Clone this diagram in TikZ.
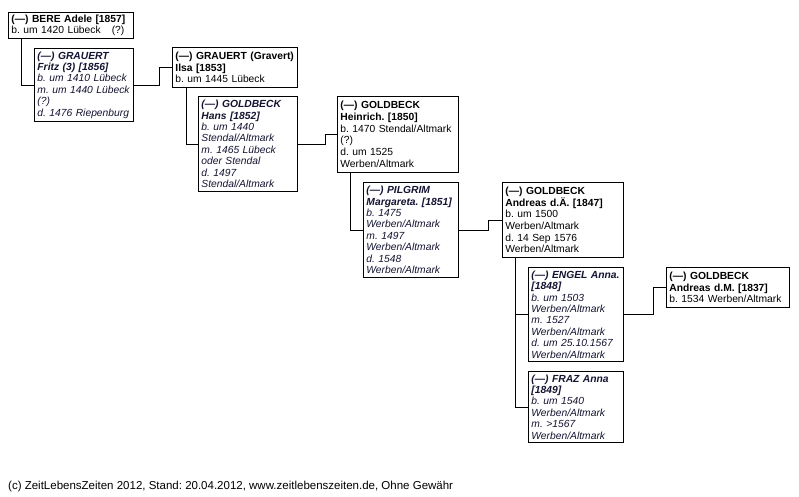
\documentclass[tikz,border=0pt]{standalone}
\usepackage{fontspec}
\setmainfont{Liberation Sans}
\definecolor{itc}{RGB}{20,20,50}
\begin{document}
\frenchspacing
\begin{tikzpicture}[x=1pt,y=-1pt,
  box/.style={draw, line width=0.9pt, anchor=north west, align=left,
    inner xsep=3pt, inner ysep=0pt, font=\fontsize{10.3}{11.7}\selectfont},
  ibox/.style={box, text=itc, font=\fontsize{10.3}{11.4}\selectfont\itshape},
  link/.style={line width=0.9pt}]
\fill[white] (0,0) rectangle (799,496);
\useasboundingbox (0,0) rectangle (799,496);

\node[box, minimum width=125pt, text width=119pt, minimum height=26pt] (bere) at (8,12)
  {\textbf{(---) BERE Adele [1857]}\\b. um 1420 Lübeck\hspace{11pt}(?)};
\node[ibox, minimum width=99pt, text width=93pt, minimum height=73pt] (fritz) at (34,48)
  {\textbf{(---) GRAUERT}\\\textbf{Fritz (3) [1856]}\\b. um 1410 Lübeck\\m. um 1440 Lübeck\\(?)\\d. 1476 Riepenburg};
\node[box, minimum width=125pt, text width=119pt, minimum height=40pt] (ilsa) at (172,47)
  {\textbf{(---) GRAUERT (Gravert)}\\\textbf{Ilsa [1853]}\\b. um 1445 Lübeck};
\node[ibox, minimum width=99pt, text width=93pt, minimum height=95pt] (hans) at (198,96)
  {\textbf{(---) GOLDBECK}\\\textbf{Hans [1852]}\\b. um 1440\\Stendal/Altmark\\m. 1465 Lübeck\\oder Stendal\\d. 1497\\Stendal/Altmark};
\node[box, minimum width=121pt, text width=115pt, minimum height=76pt] (heinrich) at (337,96)
  {\textbf{(---) GOLDBECK}\\\textbf{Heinrich. [1850]}\\b. 1470 Stendal/Altmark\\(?)\\d. um 1525\\Werben/Altmark};
\node[ibox, minimum width=95pt, text width=89pt, minimum height=95pt] (margareta) at (363,182)
  {\textbf{(---) PILGRIM}\\\textbf{Margareta. [1851]}\\b. 1475\\Werben/Altmark\\m. 1497\\Werben/Altmark\\d. 1548\\Werben/Altmark};
\node[box, minimum width=121pt, text width=115pt, minimum height=75pt] (andreas) at (502,182)
  {\textbf{(---) GOLDBECK}\\\textbf{Andreas d.Ä. [1847]}\\b. um 1500\\Werben/Altmark\\d. 14 Sep 1576\\Werben/Altmark};
\node[ibox, minimum width=95pt, text width=89pt, minimum height=94pt] (engel) at (528,267)
  {\textbf{(---) ENGEL Anna.}\\\textbf{[1848]}\\b. um 1503\\Werben/Altmark\\m. 1527\\Werben/Altmark\\d. um 25.10.1567\\Werben/Altmark};
\node[ibox, minimum width=95pt, text width=89pt, minimum height=71pt] (fraz) at (528,371)
  {\textbf{(---) FRAZ Anna}\\\textbf{[1849]}\\b. um 1540\\Werben/Altmark\\m. >1567\\Werben/Altmark};
\node[box, minimum width=123pt, text width=117pt, minimum height=40pt] (andreasm) at (666,267)
  {\textbf{(---) GOLDBECK}\\\textbf{Andreas d.M. [1837]}\\b. 1534 Werben/Altmark};

\node[anchor=west, inner sep=0pt, font=\fontsize{11.5}{13}\selectfont] (foot) at (8,487)
  {(c) ZeitLebensZeiten 2012, Stand: 20.04.2012, www.zeitlebenszeiten.de, Ohne Gewähr};

\draw[link] ([xshift=13pt]bere.south west) |- (fritz.west);
\draw[link] (fritz.east) -- ++(26,0) |- (ilsa.west);
\draw[link] ([xshift=14pt]ilsa.south west) |- (hans.west);
\draw[link] (hans.east) -- ++(28,0) |- (heinrich.west);
\draw[link] ([xshift=13pt]heinrich.south west) |- (margareta.west);
\draw[link] (margareta.east) -- ++(30,0) |- (andreas.west);
\draw[link] ([xshift=13pt]andreas.south west) |- (engel.west);
\draw[link] ([xshift=13pt]andreas.south west) |- (fraz.west);
\draw[link] (engel.east) -- ++(30,0) |- (andreasm.west);
\end{tikzpicture}
\end{document}
